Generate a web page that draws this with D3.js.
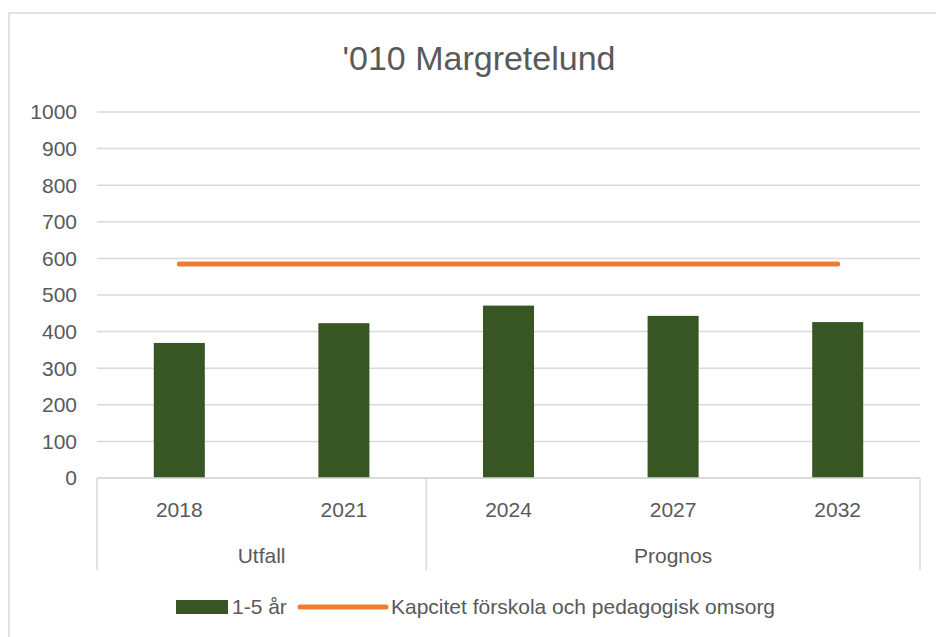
<!DOCTYPE html>
<html>
<head>
<meta charset="utf-8">
<script src="https://cdn.jsdelivr.net/npm/d3@7"></script>
<style>
  body { margin: 0; background: #fff; }
  text { font-family: "Liberation Sans", Arial, sans-serif; fill: #595959; }
</style>
</head>
<body>
<div id="chart"></div>
<script>
// data
let years = ["2018", "2021", "2024", "2027", "2032"]
let groups = [
    { name: "Utfall", years: ["2018", "2021"] },
    { name: "Prognos", years: ["2024", "2027", "2032"] }
]
let children = [369, 423, 471, 443, 426]
let capacity = [585, 585, 585, 585, 585]
let yTicks = [0, 100, 200, 300, 400, 500, 600, 700, 800, 900, 1000]

let width = 936, height = 637
let margin = { top: 112, right: 16, bottom: 159, left: 97 }
let fs = "21px"

let svg = d3.select("#chart")
    .append("svg")
    .attr("width", width)
    .attr("height", height)

// outer chart border
svg.append("rect")
    .attr("x", 9).attr("y", 13)
    .attr("width", 940).attr("height", 640)
    .attr("fill", "none")
    .attr("stroke", "#d9d9d9")
    .attr("stroke-width", 1.5)

svg.append("text")
    .attr("x", 479)
    .attr("y", 70)
    .attr("text-anchor", "middle")
    .style("font-size", "34px")
    .text("'010 Margretelund")

let x = d3.scaleBand()
    .domain(years)
    .range([margin.left, width - margin.right])
    .paddingInner(0.69)
    .paddingOuter(0.345)

let y = d3.scaleLinear()
    .domain([0, 1000])
    .range([height - margin.bottom, margin.top])

// gridlines
svg.append("g")
    .selectAll("line")
    .data(yTicks)
    .enter()
    .append("line")
    .attr("x1", margin.left)
    .attr("x2", width - margin.right)
    .attr("y1", d => y(d))
    .attr("y2", d => y(d))
    .attr("stroke", "#d9d9d9")
    .attr("stroke-width", 1.5)

// y tick labels
svg.append("g")
    .selectAll("text")
    .data(yTicks)
    .enter()
    .append("text")
    .attr("x", 77)
    .attr("y", d => y(d))
    .attr("dy", "0.35em")
    .attr("text-anchor", "end")
    .style("font-size", fs)
    .text(d => d)

// bars
svg.append("g")
    .selectAll("rect")
    .data(children)
    .enter()
    .append("rect")
    .attr("x", (d, i) => x(years[i]))
    .attr("y", d => y(d))
    .attr("width", x.bandwidth())
    .attr("height", d => y(0) - y(d))
    .attr("fill", "#375623")

// capacity line
let line = d3.line()
    .x((d, i) => x(years[i]) + x.bandwidth() / 2)
    .y(d => y(d))

svg.append("path")
    .datum(capacity)
    .attr("d", line)
    .attr("fill", "none")
    .attr("stroke", "#ED7D31")
    .attr("stroke-width", 5)
    .attr("stroke-linecap", "round")

// category axis with grouped labels
let axisY = y(0)
let step = x.step()
let left = margin.left
let bottomTick = 570

svg.append("line")
    .attr("x1", left).attr("x2", width - margin.right)
    .attr("y1", axisY).attr("y2", axisY)
    .attr("stroke", "#d9d9d9").attr("stroke-width", 1.5)

let bounds = [left]
let acc = 0
groups.forEach(g => { acc += g.years.length; bounds.push(left + acc * step) })

svg.append("g")
    .selectAll("line")
    .data(bounds)
    .enter()
    .append("line")
    .attr("x1", d => d).attr("x2", d => d)
    .attr("y1", axisY).attr("y2", bottomTick)
    .attr("stroke", "#d9d9d9").attr("stroke-width", 1.5)

svg.append("g")
    .selectAll("text")
    .data(years)
    .enter()
    .append("text")
    .attr("x", d => x(d) + x.bandwidth() / 2)
    .attr("y", 510)
    .attr("dy", "0.35em")
    .attr("text-anchor", "middle")
    .style("font-size", fs)
    .text(d => d)

svg.append("g")
    .selectAll("text")
    .data(groups)
    .enter()
    .append("text")
    .attr("x", (d, i) => (bounds[i] + bounds[i + 1]) / 2)
    .attr("y", 556)
    .attr("dy", "0.35em")
    .attr("text-anchor", "middle")
    .style("font-size", fs)
    .text(d => d.name)

// legend
let legend = svg.append("g")
legend.append("rect")
    .attr("x", 176).attr("y", 600)
    .attr("width", 52).attr("height", 14)
    .attr("fill", "#375623")
legend.append("text")
    .attr("x", 232).attr("y", 607).attr("dy", "0.35em")
    .style("font-size", fs)
    .text("1-5 år")
legend.append("line")
    .attr("x1", 300).attr("x2", 386)
    .attr("y1", 607).attr("y2", 607)
    .attr("stroke", "#ED7D31").attr("stroke-width", 5)
    .attr("stroke-linecap", "round")
legend.append("text")
    .attr("x", 391).attr("y", 607).attr("dy", "0.35em")
    .style("font-size", fs)
    .text("Kapcitet förskola och pedagogisk omsorg")
</script>
</body>
</html>
